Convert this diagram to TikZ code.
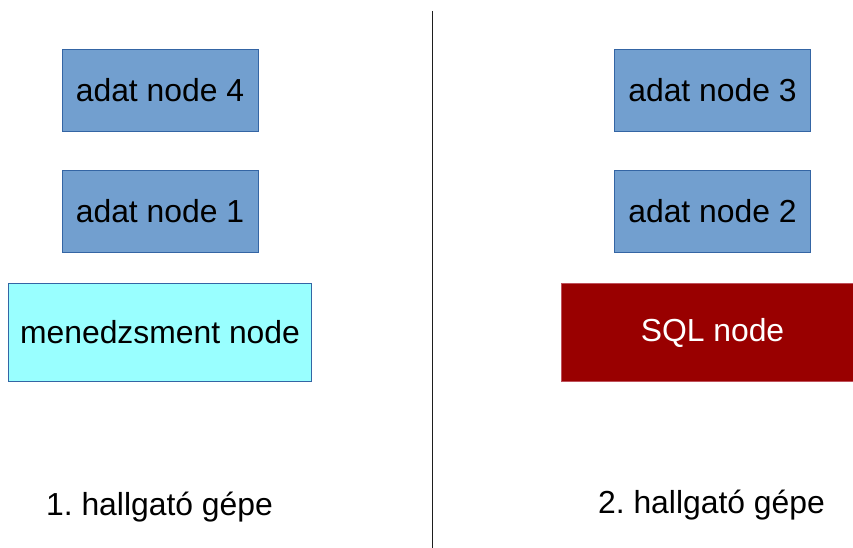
\documentclass[tikz,border=0pt]{standalone}
\usepackage{fontspec}
\setmainfont{Liberation Sans}
\usepackage{xcolor}
\frenchspacing

\definecolor{adatfill}{RGB}{114,159,207}
\definecolor{adatline}{RGB}{52,101,164}
\definecolor{mgmfill}{RGB}{153,255,255}
\definecolor{sqlfill}{RGB}{153,0,0}
\definecolor{sqlline}{RGB}{190,80,90}

\tikzset{
  boxtext/.style={font=\fontsize{23.9}{28}\selectfont},
  adatbox/.style={boxtext, draw=adatline, fill=adatfill, line width=0.75pt,
    inner sep=0pt, minimum width=147pt, minimum height=62pt},
  mgmbox/.style={boxtext, draw=adatline, fill=mgmfill, line width=0.75pt,
    inner sep=0pt, minimum width=227pt, minimum height=74pt},
  sqlbox/.style={boxtext, draw=sqlline, fill=sqlfill, text=white, line width=0.75pt,
    inner sep=0pt, minimum width=227pt, minimum height=74pt},
  gepe/.style={boxtext, inner sep=0pt}
}

\begin{document}
\begin{tikzpicture}[x=0.75pt,y=0.75pt,yscale=-1,xscale=1]
\useasboundingbox (0,0) rectangle (853,548);

% first machine
\node [adatbox] (adat4) at (160,90.5) {adat node 4};
\node [adatbox] (adat1) at (160,211.5) {adat node 1};
\node [mgmbox] (mgm) at (160,332.5) {menedzsment node};
\node [gepe] (gep1) at (159.5,507) {1. hallgató gépe};

% second machine
\node [adatbox] (adat3) at (712.5,90.5) {adat node 3};
\node [adatbox] (adat2) at (712.5,211.5) {adat node 2};
\node [sqlbox] (sql) at (712.5,332.5) {SQL node};
\node [gepe] (gep2) at (711.5,505) {2. hallgató gépe};

% separator
\coordinate (septop) at (432.5,11);
\coordinate (sepbot) at (432.5,548);
\draw [line width=0.9pt, color={rgb,255:red,30;green,30;blue,30}] (septop) -- (sepbot);

\end{tikzpicture}
\end{document}
